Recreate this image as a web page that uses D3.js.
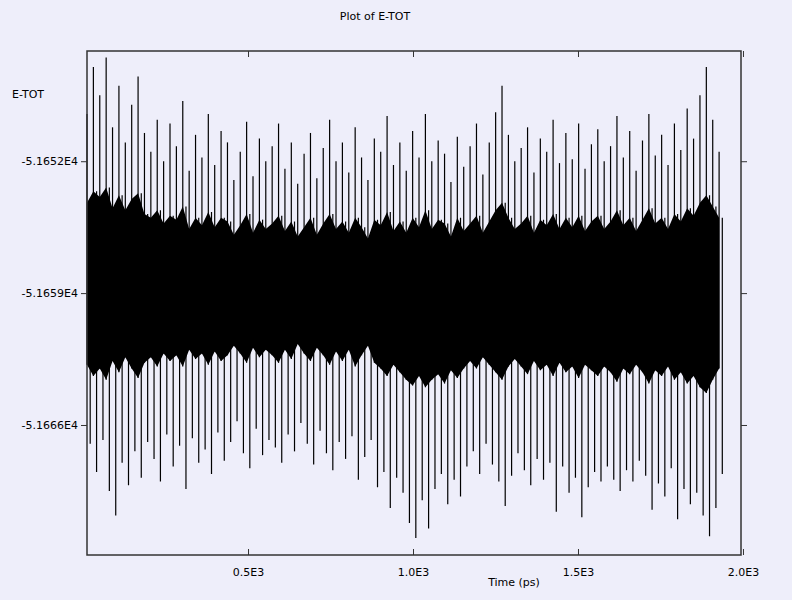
<!DOCTYPE html>
<html><head><meta charset="utf-8">
<script src="https://cdn.jsdelivr.net/npm/d3@7"></script>
<style>body{margin:0;background:#eeeefa}text{font-family:"DejaVu Sans",sans-serif;font-size:11px;fill:#000}</style>
</head><body><svg id="c" width="792" height="600"></svg>
<script>
// envelope of E-TOT per time bin
var tStart = 12, tStep = 19.35;
var hiSpike = [-51649.5,-51647.0,-51648.5,-51646.5,-51650.2,-51648.0,-51651.0,-51649.0,-51647.5,-51650.5,
  -51651.5,-51649.8,-51652.0,-51650.0,-51651.2,-51648.8,-51652.5,-51650.6,-51651.8,-51649.5,
  -51652.2,-51650.4,-51651.0,-51653.0,-51651.5,-51649.9,-51652.8,-51650.8,-51652.0,-51651.2,
  -51650.0,-51652.4,-51651.0,-51653.2,-51651.6,-51650.5,-51652.9,-51651.3,-51649.8,-51652.0,
  -51651.0,-51652.6,-51650.2,-51651.8,-51653.0,-51650.8,-51651.5,-51649.6,-51652.2,-51651.0,
  -51652.5,-51650.4,-51651.8,-51649.5,-51652.0,-51650.9,-51651.6,-51653.1,-51650.7,-51652.3,
  -51651.2,-51650.0,-51652.7,-51651.0,-51649.4,-51648.0,-51650.6,-51652.0,-51651.3,-51650.2,
  -51652.6,-51650.8,-51651.5,-51649.8,-51652.1,-51650.5,-51651.9,-51650.0,-51652.4,-51651.1,
  -51650.3,-51652.0,-51651.2,-51649.6,-51651.8,-51650.4,-51652.5,-51650.9,-51649.5,-51651.7,
  -51650.6,-51652.2,-51650.0,-51651.4,-51649.2,-51650.8,-51648.5,-51647.0,-51649.8,-51651.5];
var coreHi = [-51654.2,-51653.6,-51653.9,-51653.4,-51654.5,-51653.8,-51654.6,-51654.0,-51653.7,-51654.8,
  -51655.0,-51654.6,-51655.3,-51654.9,-51655.1,-51654.4,-51655.6,-51655.0,-51655.4,-51654.7,
  -51655.5,-51655.0,-51655.2,-51655.9,-51655.4,-51654.8,-51655.8,-51655.1,-51655.6,-51655.3,
  -51654.9,-51655.7,-51655.2,-51656.0,-51655.5,-51655.0,-51655.9,-51655.3,-51654.8,-51655.6,
  -51655.2,-51655.8,-51655.0,-51655.5,-51656.1,-51655.1,-51655.4,-51654.7,-51655.7,-51655.2,
  -51655.8,-51655.0,-51655.5,-51654.6,-51655.6,-51655.1,-51655.3,-51656.0,-51655.0,-51655.7,
  -51655.3,-51654.9,-51655.8,-51655.2,-51654.6,-51654.2,-51655.0,-51655.6,-51655.3,-51654.9,
  -51655.8,-51655.1,-51655.4,-51654.8,-51655.6,-51655.0,-51655.5,-51654.9,-51655.7,-51655.2,
  -51654.9,-51655.6,-51655.2,-51654.6,-51655.4,-51655.0,-51655.7,-51655.1,-51654.5,-51655.3,
  -51655.0,-51655.6,-51654.8,-51655.2,-51654.5,-51654.9,-51654.2,-51653.8,-51654.4,-51655.0];
var coreLo = [-51662.8,-51663.4,-51663.0,-51663.6,-51662.6,-51663.2,-51662.4,-51663.0,-51663.5,-51662.7,
  -51662.4,-51662.9,-51662.2,-51662.6,-51662.3,-51662.9,-51662.0,-51662.5,-51662.2,-51662.8,
  -51662.1,-51662.6,-51662.3,-51661.8,-51662.2,-51662.7,-51661.9,-51662.4,-51662.0,-51662.3,
  -51662.7,-51662.0,-51662.5,-51661.7,-51662.2,-51662.6,-51661.9,-51662.3,-51662.8,-51662.1,
  -51662.6,-51662.0,-51662.9,-51662.3,-51661.8,-51662.7,-51663.0,-51663.4,-51662.8,-51663.2,
  -51663.6,-51663.9,-51663.4,-51664.0,-51663.6,-51663.3,-51663.8,-51663.1,-51663.5,-51663.0,
  -51662.6,-51663.0,-51662.4,-51662.8,-51663.2,-51663.6,-51662.9,-51662.5,-51662.9,-51663.3,
  -51662.6,-51663.1,-51662.8,-51663.4,-51662.7,-51663.2,-51662.9,-51663.5,-51662.8,-51663.1,
  -51663.4,-51662.9,-51663.2,-51663.7,-51663.0,-51663.3,-51662.8,-51663.2,-51663.8,-51663.1,
  -51663.4,-51662.9,-51663.6,-51663.2,-51663.8,-51663.4,-51664.0,-51664.3,-51663.6,-51663.0];
var loSpike = [-51667.0,-51668.5,-51666.8,-51669.5,-51670.8,-51668.0,-51669.2,-51667.4,-51668.8,-51666.9,
  -51667.8,-51669.0,-51666.5,-51668.2,-51667.1,-51669.4,-51666.7,-51668.0,-51667.3,-51668.6,
  -51666.4,-51667.9,-51666.9,-51665.8,-51667.5,-51668.3,-51666.2,-51667.6,-51666.8,-51667.2,
  -51668.0,-51666.5,-51667.4,-51665.9,-51667.0,-51668.1,-51666.3,-51667.5,-51668.4,-51666.9,
  -51667.8,-51666.6,-51668.9,-51667.7,-51666.8,-51669.3,-51668.5,-51670.4,-51668.8,-51669.6,
  -51671.2,-51672.0,-51670.0,-51671.5,-51669.4,-51668.6,-51670.2,-51668.9,-51669.8,-51668.2,
  -51667.4,-51668.6,-51667.0,-51668.1,-51669.0,-51670.3,-51668.7,-51667.5,-51668.4,-51669.2,
  -51667.8,-51668.9,-51668.0,-51670.6,-51668.2,-51669.6,-51668.8,-51670.9,-51669.3,-51668.5,
  -51669.0,-51668.2,-51668.9,-51669.5,-51668.4,-51669.0,-51667.9,-51668.7,-51670.5,-51669.1,
  -51669.8,-51668.3,-51671.0,-51669.4,-51670.2,-51669.6,-51670.8,-51671.9,-51670.4,-51668.6];
var yTicks = [-51652, -51659, -51666];
var yTickLabels = ["-5.1652E4", "-5.1659E4", "-5.1666E4"];
var xTicks = [500, 1000, 1500, 2000];
var xTickLabels = ["0.5E3", "1.0E3", "1.5E3", "2.0E3"];

var svg = d3.select("#c");
var L = 87, R = 741, T = 51, B = 555;
var x = d3.scaleLinear().domain([12, 1994]).range([L, R]);
var y = d3.scaleLinear().domain([-51672.9, -51646.15]).range([B, T]);
var line = d3.line().x(function(d) { return x(d[0]); }).y(function(d) { return y(d[1]); });

// dense core band
var core = coreHi.map(function(h, i) { return {t: tStart + i * tStep, hi: h, lo: coreLo[i]}; });
svg.append("path").datum(core)
  .attr("d", d3.area().x(function(d) { return x(d.t); }).y0(function(d) { return y(d.lo); }).y1(function(d) { return y(d.hi); }))
  .attr("fill", "#000");

// vertical spikes: one upward and one downward per bin
var segs = [];
hiSpike.forEach(function(h, i) {
  var t = tStart + i * tStep, q = tStep / 2;
  segs.push([[t, h], [t, coreLo[i]]], [[t + q, coreHi[i]], [t + q, loSpike[i]]]);
});
svg.append("g").selectAll("path").data(segs).join("path")
  .attr("d", line).attr("fill", "none").attr("stroke", "#000").attr("stroke-width", 1.2);

// frame and ticks
svg.append("rect").attr("x", L).attr("y", T).attr("width", R - L).attr("height", B - T)
  .attr("fill", "none").attr("stroke", "#333").attr("stroke-width", 1.5);
svg.append("g").attr("transform", "translate(0," + B + ")")
  .call(d3.axisBottom(x).tickValues(xTicks).tickSize(-6).tickFormat(function(d, i) { return xTickLabels[i]; }))
  .call(function(g) { g.select(".domain").remove(); g.selectAll("text").attr("dy", "1.6em"); });
svg.append("g").attr("transform", "translate(0," + T + ")")
  .call(d3.axisTop(x).tickValues(xTicks).tickSize(-6).tickFormat(""))
  .call(function(g) { g.select(".domain").remove(); });
svg.append("g").attr("transform", "translate(" + L + ",0)")
  .call(d3.axisLeft(y).tickValues(yTicks).tickSize(6).tickPadding(3).tickFormat(function(d, i) { return yTickLabels[i]; }))
  .call(function(g) { g.select(".domain").remove(); });
svg.append("g").attr("transform", "translate(" + R + ",0)")
  .call(d3.axisRight(y).tickValues(yTicks).tickSize(6).tickFormat(""))
  .call(function(g) { g.select(".domain").remove(); });
svg.selectAll(".tick line").attr("stroke", "#333");
svg.selectAll(".tick text").style("font-family", "DejaVu Sans").style("font-size", "11px");

svg.append("text").attr("x", 375).attr("y", 20).attr("text-anchor", "middle").text("Plot of E-TOT");
svg.append("text").attr("x", 12).attr("y", 98).text("E-TOT");
svg.append("text").attr("x", 514).attr("y", 586).attr("text-anchor", "middle").text("Time (ps)");
</script></body></html>
